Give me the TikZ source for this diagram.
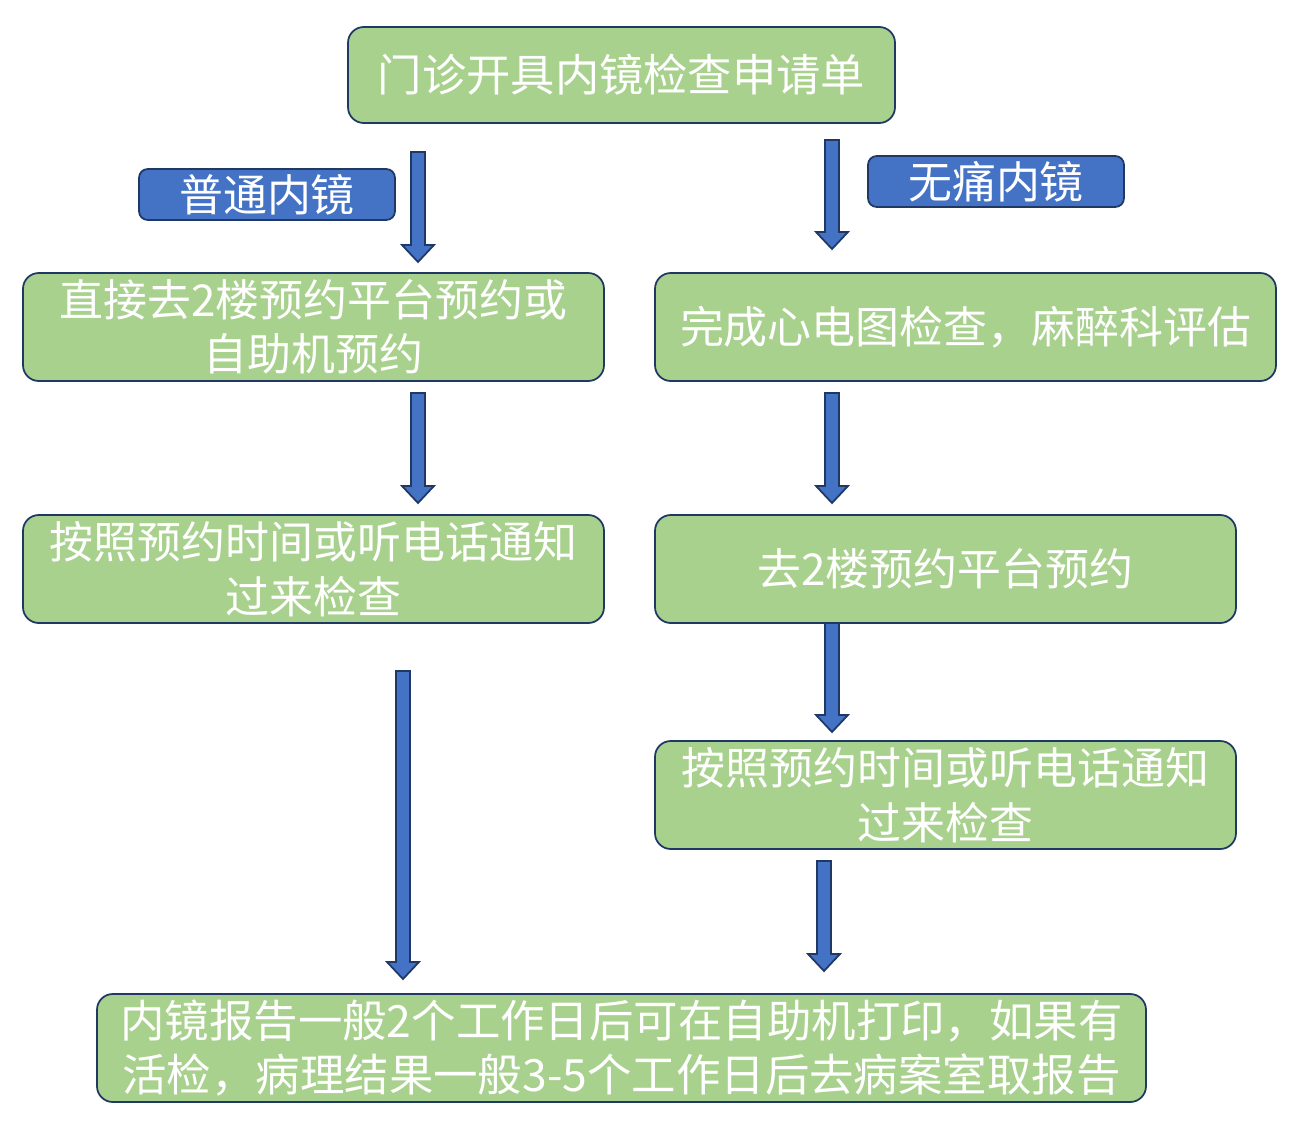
\documentclass[tikz,border=0pt]{standalone}
\usepackage{fontspec}
\setmainfont{Noto Sans CJK SC}
\usetikzlibrary{calc}
\definecolor{leaf}{HTML}{A9D18E}
\definecolor{navy}{HTML}{1F3864}
\definecolor{royal}{HTML}{4472C4}
\newcommand{\bodyfont}{\fontsize{25}{31}\selectfont}
\newcommand{\headfont}{\fontsize{25.2}{31}\selectfont}
\newcommand{\tailfont}{\fontsize{25.3}{30.5}\selectfont}
\tikzset{
  stepbox/.style={rounded corners=9pt,draw=navy,fill=leaf,line width=1pt,
                  text=white,align=center,inner sep=0pt,font=\bodyfont},
  tagbox/.style={rounded corners=5pt,draw=navy,fill=royal,line width=1pt,
                 text=white,align=center,inner sep=0pt,font=\bodyfont,
                 minimum width=256\pxu,minimum height=51\pxu},
  flowarrow/.style={draw=navy,fill=royal,line width=1pt,line join=miter}
}
\newlength{\pxu}
\setlength{\pxu}{0.02cm}
% block arrow between two named coordinates (top -> tip)
\newcommand{\flowarrow}[2]{%
  \draw[flowarrow] ($(#1)+(-7,0)$) -- ($(#1)+(7,0)$) -- ($(#2)+(7,-17)$)
    -- ($(#2)+(16,-17)$) -- (#2) -- ($(#2)+(-16,-17)$) -- ($(#2)+(-7,-17)$) -- cycle;}
\begin{document}
\begin{tikzpicture}[x=0.02cm,y=-0.02cm]
  \useasboundingbox (0,0) rectangle (1289,1139);
  % boxes
  \node[stepbox,font=\headfont,minimum width=547\pxu,minimum height=96\pxu] (req) at (621.5,75) {门诊开具内镜检查申请单};
  \node[tagbox] (plain) at (267,194.5) {普通内镜};
  \node[tagbox] (painless) at (996,181.5) {无痛内镜};
  \node[stepbox,minimum width=581\pxu,minimum height=108\pxu] (book) at (313.5,327) {直接去2楼预约平台预约或\\自助机预约};
  \node[stepbox,minimum width=621\pxu,minimum height=108\pxu] (ecg) at (965.5,327) {完成心电图检查，麻醉科评估};
  \node[stepbox,minimum width=581\pxu,minimum height=108\pxu] (waitl) at (313.5,569) {按照预约时间或听电话通知\\过来检查};
  \node[stepbox,minimum width=581\pxu,minimum height=108\pxu] (bookr) at (945.5,569) {去2楼预约平台预约};
  \node[stepbox,minimum width=581\pxu,minimum height=108\pxu] (waitr) at (945.5,795) {按照预约时间或听电话通知\\过来检查};
  \node[stepbox,font=\tailfont,minimum width=1049\pxu,minimum height=108\pxu] (report) at (621.5,1048) {内镜报告一般2个工作日后可在自助机打印，如果有\\活检，病理结果一般3-5个工作日后去病案室取报告};
  % arrow ends
  \coordinate (a1s) at (418,152); \coordinate (a1e) at (418,262);
  \coordinate (a2s) at (832,140); \coordinate (a2e) at (832,249);
  \coordinate (a3s) at (418,393); \coordinate (a3e) at (418,503);
  \coordinate (a4s) at (832,393); \coordinate (a4e) at (832,503);
  \coordinate (a5s) at (832,623); \coordinate (a5e) at (832,732);
  \coordinate (a6s) at (403,671); \coordinate (a6e) at (403,979);
  \coordinate (a7s) at (824,861); \coordinate (a7e) at (824,971);
  \flowarrow{a1s}{a1e} \flowarrow{a2s}{a2e}
  \flowarrow{a3s}{a3e} \flowarrow{a4s}{a4e}
  \flowarrow{a5s}{a5e}
  \flowarrow{a6s}{a6e} \flowarrow{a7s}{a7e}
\end{tikzpicture}
\end{document}
